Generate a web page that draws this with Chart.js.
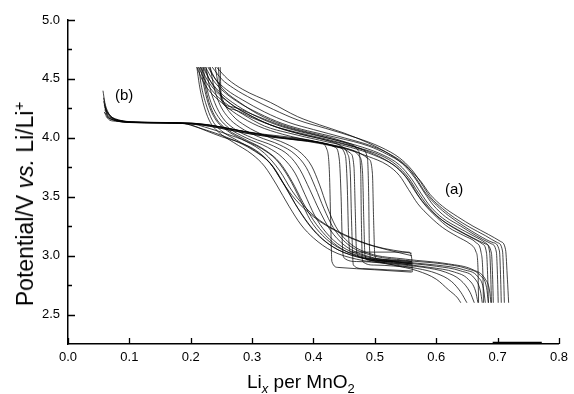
<!DOCTYPE html>
<html>
<head>
<meta charset="utf-8">
<script src="https://cdn.jsdelivr.net/npm/chart.js@4"></script>
<style>
  html, body { margin: 0; padding: 0; background: #fff; }
  #wrap { position: relative; width: 574px; height: 394px; font-family: "Liberation Sans", Arial, sans-serif; color: #000; }
  #c { position: absolute; left: 0; top: 0; }
  .lbl { position: absolute; white-space: nowrap; line-height: 1; }
  #ytitle { font-size: 23px; left: 24px; top: 204px; transform: translate(-50%, -50%) rotate(-90deg); }
  #xtitle { font-size: 19px; left: 247px; top: 372px; }
  #xtitle sub { font-size: 13px; vertical-align: -5px; }
  #ytitle sup { font-size: 15px; vertical-align: 9px; }
  .curveLbl { font-size: 15px; }
</style>
</head>
<body>
<div id="wrap">
  <canvas id="c" width="574" height="394"></canvas>
  <div id="ytitle" class="lbl">Potential/V <i>vs.</i> Li/Li<sup>+</sup></div>
  <div id="xtitle" class="lbl">Li<sub><i>x</i></sub> per MnO<sub>2</sub></div>
  <div id="lblB" class="lbl curveLbl" style="left:115px; top:87px;">(b)</div>
  <div id="lblA" class="lbl curveLbl" style="left:445px; top:181px;">(a)</div>
</div>
<script>
// ---- tick labels / axis ranges ----
const xTicks = [0.0, 0.1, 0.2, 0.3, 0.4, 0.5, 0.6, 0.7, 0.8];
const yTicks = [2.5, 3.0, 3.5, 4.0, 4.5, 5.0];
const yMinorTicks = [2.75, 3.25, 3.75, 4.25, 4.75];
const xRange = [0, 0.8];
const yRange = [2.25, 5.0];

// ---- curve set (b): start near x = 0.06, 4.13 V plateau, then 4.0 V and sharp drop ----
const bDropCurves = [
  [[0.057,4.40],[0.060,4.30],[0.065,4.22],[0.072,4.17],[0.085,4.145],[0.11,4.135],[0.16,4.13],[0.20,4.125],[0.23,4.11],[0.27,4.07],[0.32,4.03],[0.37,4.00],[0.41,3.96],[0.422,3.90],[0.426,3.70],[0.428,3.30],[0.430,2.95],[0.44,2.90],[0.50,2.88],[0.56,2.86]],
  [[0.058,4.34],[0.061,4.26],[0.067,4.20],[0.076,4.16],[0.09,4.14],[0.12,4.13],[0.17,4.128],[0.21,4.12],[0.25,4.09],[0.30,4.04],[0.35,4.00],[0.40,3.97],[0.435,3.92],[0.442,3.82],[0.445,3.50],[0.447,3.10],[0.450,2.98],[0.47,2.95],[0.52,2.94],[0.56,2.92]],
  [[0.059,4.28],[0.063,4.22],[0.069,4.18],[0.08,4.15],[0.10,4.135],[0.15,4.13],[0.20,4.125],[0.24,4.10],[0.29,4.05],[0.34,4.01],[0.39,3.98],[0.44,3.92],[0.452,3.85],[0.455,3.60],[0.457,3.20],[0.460,3.03],[0.50,3.03],[0.555,3.03],[0.560,2.98],[0.561,2.86]],
  [[0.060,4.24],[0.064,4.19],[0.071,4.16],[0.082,4.14],[0.10,4.13],[0.15,4.125],[0.20,4.12],[0.24,4.09],[0.29,4.04],[0.34,4.00],[0.39,3.97],[0.44,3.92],[0.46,3.87],[0.466,3.75],[0.468,3.40],[0.470,3.05],[0.474,2.99],[0.51,2.97],[0.56,2.95]],
  [[0.061,4.21],[0.066,4.17],[0.074,4.15],[0.09,4.135],[0.12,4.13],[0.17,4.125],[0.21,4.115],[0.25,4.08],[0.30,4.03],[0.36,3.99],[0.42,3.95],[0.46,3.90],[0.475,3.84],[0.480,3.70],[0.482,3.30],[0.484,3.00],[0.49,2.96],[0.53,2.95],[0.56,2.94]],
  [[0.062,4.18],[0.068,4.15],[0.08,4.14],[0.10,4.13],[0.15,4.128],[0.20,4.12],[0.24,4.10],[0.29,4.05],[0.35,4.00],[0.41,3.96],[0.46,3.90],[0.49,3.82],[0.496,3.70],[0.498,3.30],[0.500,3.00],[0.506,2.96],[0.53,2.95],[0.56,2.93]]
];
const bSlopeCurves = [
  [[0.058,4.31],[0.062,4.24],[0.068,4.19],[0.078,4.16],[0.095,4.14],[0.13,4.13],[0.18,4.125],[0.20,4.11],[0.225,4.06],[0.25,4.01],[0.28,3.96],[0.31,3.88],[0.335,3.75],[0.355,3.58],[0.375,3.40],[0.40,3.22],[0.43,3.08],[0.47,2.99],[0.52,2.95],[0.56,2.93]],
  [[0.060,4.26],[0.064,4.20],[0.070,4.17],[0.082,4.15],[0.10,4.135],[0.14,4.13],[0.19,4.12],[0.21,4.09],[0.24,4.04],[0.27,3.98],[0.30,3.90],[0.33,3.78],[0.35,3.62],[0.37,3.48],[0.40,3.33],[0.44,3.20],[0.48,3.11],[0.52,3.05],[0.56,3.00]],
  [[0.059,4.22],[0.063,4.18],[0.070,4.16],[0.085,4.14],[0.11,4.13],[0.16,4.125],[0.20,4.12],[0.23,4.08],[0.26,4.03],[0.29,3.97],[0.32,3.87],[0.345,3.72],[0.365,3.55],[0.385,3.42],[0.41,3.30],[0.45,3.18],[0.50,3.08],[0.56,3.02]]
];

// ---- curve set (a): start at 4.6 V near x = 0.21-0.25 ----
const aDropCurves = [
  [[0.222,4.60],[0.232,4.48],[0.248,4.37],[0.27,4.27],[0.30,4.18],[0.34,4.09],[0.38,4.03],[0.42,3.98],[0.445,3.93],[0.455,3.87],[0.460,3.70],[0.462,3.30],[0.465,2.92],[0.48,2.89],[0.52,2.88],[0.56,2.87]],
  [[0.230,4.60],[0.240,4.50],[0.255,4.40],[0.28,4.30],[0.31,4.20],[0.35,4.11],[0.39,4.05],[0.43,4.00],[0.46,3.95],[0.473,3.89],[0.477,3.70],[0.478,3.30],[0.480,2.95],[0.50,2.92],[0.56,2.90]],
  [[0.245,4.60],[0.247,4.45],[0.250,4.32],[0.27,4.26],[0.30,4.20],[0.35,4.10],[0.40,4.03],[0.45,3.96],[0.48,3.90],[0.488,3.82],[0.490,3.50],[0.491,3.10],[0.494,2.97],[0.52,2.96],[0.56,2.95]]
];
const aUpperCurves = [
  [[0.210,4.60],[0.218,4.50],[0.230,4.40],[0.250,4.30],[0.275,4.20],[0.31,4.10],[0.35,4.03],[0.40,3.97],[0.45,3.91],[0.49,3.84],[0.52,3.77],[0.54,3.68],[0.555,3.56],[0.57,3.44],[0.59,3.33],[0.61,3.24],[0.635,3.16],[0.655,3.10],[0.665,3.03],[0.668,2.90],[0.669,2.60]],
  [[0.213,4.60],[0.222,4.50],[0.235,4.40],[0.255,4.30],[0.285,4.20],[0.32,4.10],[0.36,4.04],[0.41,3.98],[0.46,3.92],[0.50,3.85],[0.53,3.77],[0.55,3.67],[0.565,3.55],[0.58,3.44],[0.60,3.33],[0.62,3.24],[0.645,3.17],[0.665,3.11],[0.673,3.03],[0.676,2.85],[0.677,2.60]],
  [[0.216,4.60],[0.226,4.50],[0.240,4.40],[0.262,4.30],[0.29,4.21],[0.33,4.11],[0.37,4.05],[0.42,3.99],[0.47,3.92],[0.51,3.85],[0.535,3.77],[0.555,3.66],[0.57,3.54],[0.585,3.43],[0.605,3.32],[0.63,3.23],[0.655,3.16],[0.675,3.10],[0.682,3.02],[0.684,2.80],[0.685,2.60]],
  [[0.220,4.60],[0.230,4.50],[0.245,4.40],[0.268,4.30],[0.30,4.20],[0.34,4.11],[0.38,4.05],[0.43,3.99],[0.48,3.92],[0.515,3.85],[0.54,3.77],[0.56,3.65],[0.575,3.53],[0.59,3.42],[0.61,3.32],[0.635,3.24],[0.66,3.17],[0.68,3.11],[0.687,3.03],[0.689,2.80],[0.690,2.60]],
  [[0.224,4.60],[0.235,4.50],[0.250,4.41],[0.275,4.31],[0.31,4.21],[0.35,4.12],[0.39,4.06],[0.44,4.00],[0.49,3.93],[0.52,3.86],[0.545,3.78],[0.565,3.66],[0.58,3.54],[0.595,3.43],[0.615,3.33],[0.64,3.25],[0.665,3.17],[0.69,3.10],[0.698,3.03],[0.700,2.80],[0.701,2.60]],
  [[0.228,4.60],[0.240,4.50],[0.258,4.41],[0.285,4.32],[0.32,4.22],[0.36,4.13],[0.40,4.07],[0.45,4.00],[0.495,3.93],[0.525,3.86],[0.55,3.77],[0.568,3.65],[0.583,3.53],[0.60,3.43],[0.62,3.34],[0.645,3.25],[0.67,3.17],[0.693,3.11],[0.703,3.04],[0.705,2.80],[0.706,2.60]],
  [[0.235,4.60],[0.250,4.50],[0.270,4.42],[0.30,4.33],[0.335,4.24],[0.375,4.15],[0.42,4.08],[0.47,4.00],[0.51,3.92],[0.54,3.83],[0.56,3.73],[0.575,3.62],[0.59,3.50],[0.61,3.40],[0.63,3.32],[0.655,3.24],[0.68,3.17],[0.70,3.11],[0.708,3.04],[0.710,2.80],[0.711,2.60]],
  [[0.242,4.60],[0.260,4.50],[0.285,4.41],[0.33,4.30],[0.374,4.18],[0.41,4.11],[0.45,4.04],[0.50,3.93],[0.53,3.84],[0.555,3.74],[0.575,3.63],[0.59,3.52],[0.61,3.42],[0.635,3.33],[0.66,3.25],[0.685,3.18],[0.705,3.12],[0.713,3.05],[0.716,2.80],[0.718,2.60]],
  [[0.248,4.60],[0.249,4.42],[0.252,4.30],[0.27,4.24],[0.30,4.17],[0.34,4.09],[0.38,4.03],[0.43,3.97],[0.48,3.90],[0.515,3.82],[0.54,3.73],[0.558,3.62],[0.572,3.50],[0.59,3.39],[0.61,3.30],[0.635,3.22],[0.66,3.15],[0.68,3.10],[0.69,3.02],[0.692,2.80],[0.693,2.60]]
];
const aLowerCurves = [
  [[0.210,4.60],[0.214,4.45],[0.220,4.30],[0.230,4.15],[0.245,4.05],[0.27,3.96],[0.30,3.86],[0.32,3.76],[0.34,3.60],[0.36,3.42],[0.38,3.26],[0.40,3.15],[0.43,3.04],[0.47,2.97],[0.52,2.93],[0.57,2.89],[0.60,2.85],[0.625,2.78],[0.64,2.69],[0.65,2.60]],
  [[0.213,4.60],[0.217,4.45],[0.224,4.30],[0.235,4.15],[0.250,4.06],[0.275,3.98],[0.305,3.89],[0.33,3.78],[0.35,3.62],[0.37,3.44],[0.39,3.28],[0.41,3.16],[0.44,3.05],[0.48,2.98],[0.53,2.93],[0.58,2.90],[0.615,2.86],[0.64,2.79],[0.655,2.69],[0.662,2.60]],
  [[0.216,4.60],[0.221,4.45],[0.228,4.30],[0.240,4.16],[0.257,4.07],[0.283,3.99],[0.315,3.91],[0.34,3.81],[0.36,3.66],[0.378,3.48],[0.395,3.30],[0.415,3.17],[0.44,3.07],[0.48,2.99],[0.53,2.94],[0.59,2.90],[0.63,2.86],[0.652,2.80],[0.664,2.70],[0.668,2.60]],
  [[0.220,4.60],[0.225,4.45],[0.233,4.30],[0.246,4.17],[0.263,4.08],[0.29,4.00],[0.325,3.92],[0.35,3.83],[0.37,3.70],[0.386,3.52],[0.402,3.34],[0.42,3.20],[0.445,3.08],[0.48,3.00],[0.53,2.95],[0.60,2.91],[0.64,2.87],[0.662,2.81],[0.672,2.70],[0.675,2.60]],
  [[0.225,4.60],[0.230,4.45],[0.239,4.30],[0.252,4.17],[0.270,4.08],[0.30,4.00],[0.335,3.93],[0.36,3.85],[0.378,3.73],[0.394,3.56],[0.41,3.38],[0.427,3.22],[0.45,3.09],[0.485,3.00],[0.54,2.95],[0.60,2.92],[0.645,2.88],[0.668,2.82],[0.677,2.72],[0.680,2.60]],
  [[0.232,4.60],[0.237,4.45],[0.246,4.30],[0.260,4.18],[0.280,4.09],[0.31,4.01],[0.345,3.94],[0.37,3.86],[0.388,3.75],[0.403,3.58],[0.417,3.40],[0.432,3.24],[0.455,3.10],[0.49,3.01],[0.55,2.96],[0.61,2.93],[0.65,2.89],[0.672,2.83],[0.682,2.73],[0.685,2.60]],
  [[0.240,4.60],[0.245,4.45],[0.254,4.30],[0.268,4.19],[0.290,4.10],[0.32,4.02],[0.355,3.95],[0.38,3.87],[0.397,3.76],[0.41,3.60],[0.422,3.42],[0.436,3.25],[0.458,3.11],[0.49,3.02],[0.55,2.97],[0.62,2.93],[0.66,2.88],[0.68,2.80],[0.687,2.70],[0.689,2.60]],
  [[0.218,4.60],[0.223,4.45],[0.230,4.30],[0.242,4.16],[0.260,4.07],[0.287,3.99],[0.32,3.90],[0.345,3.79],[0.365,3.63],[0.383,3.45],[0.40,3.30],[0.42,3.17],[0.445,3.06],[0.48,2.98],[0.53,2.92],[0.57,2.87],[0.60,2.80],[0.62,2.71],[0.635,2.64],[0.64,2.60]]
];
const axisMark = [[0.692,2.262],[0.772,2.262]];

// ---- build datasets ----
const allCurves = [].concat(bDropCurves, bSlopeCurves, aDropCurves, aUpperCurves, aLowerCurves);
const datasets = allCurves.map(pts => ({
  data: pts,
  borderColor: 'rgba(0,0,0,0.92)',
  borderWidth: 0.8,
  pointRadius: 0,
  fill: false,
  cubicInterpolationMode: 'monotone'
}));
datasets.push({ data: axisMark, borderColor: '#000', borderWidth: 1.6, pointRadius: 0, fill: false, tension: 0 });

const inwardTicks = {
  id: 'inwardTicks',
  afterDraw(chart) {
    const ctx = chart.ctx;
    const xs = chart.scales.x, ys = chart.scales.y;
    const a = chart.chartArea;
    ctx.save();
    ctx.strokeStyle = '#000';
    ctx.lineWidth = 1.3;
    ctx.beginPath();
    xTicks.forEach(v => { const p = Math.round(xs.getPixelForValue(v)) + 0.5; ctx.moveTo(p, a.bottom); ctx.lineTo(p, a.bottom - 6); });
    yTicks.forEach(v => { const p = Math.round(ys.getPixelForValue(v)) + 0.5; ctx.moveTo(a.left, p); ctx.lineTo(a.left + 7, p); });
    yMinorTicks.forEach(v => { const p = Math.round(ys.getPixelForValue(v)) + 0.5; ctx.moveTo(a.left, p); ctx.lineTo(a.left + 4, p); });
    ctx.stroke();
    ctx.restore();
  }
};

new Chart(document.getElementById('c'), {
  type: 'line',
  data: { datasets },
  plugins: [inwardTicks],
  options: {
    responsive: false,
    animation: false,
    events: [],
    layout: { padding: { left: 0, right: 10, top: 20, bottom: 0 } },
    plugins: { legend: { display: false }, tooltip: { enabled: false } },
    scales: {
      x: {
        type: 'linear', min: xRange[0], max: xRange[1],
        afterFit(s) { s.height = 50; },
        afterBuildTicks(s) { s.ticks = xTicks.map(v => ({ value: v })); },
        grid: { display: true, drawOnChartArea: false, drawTicks: false },
        border: { display: true, color: '#000', width: 1.5 },
        ticks: { padding: 6, color: '#000', font: { family: 'Liberation Sans', size: 13 }, callback: v => Number(v).toFixed(1), maxRotation: 0, autoSkip: false }
      },
      y: {
        type: 'linear', min: yRange[0], max: yRange[1],
        afterFit(s) { s.width = 68; },
        afterBuildTicks(s) { s.ticks = yTicks.map(v => ({ value: v })); },
        grid: { display: true, drawOnChartArea: false, drawTicks: false },
        border: { display: true, color: '#000', width: 1.5 },
        ticks: { padding: 8, color: '#000', font: { family: 'Liberation Sans', size: 13 }, callback: v => Number(v).toFixed(1), autoSkip: false }
      }
    }
  }
});
</script>
</body>
</html>
